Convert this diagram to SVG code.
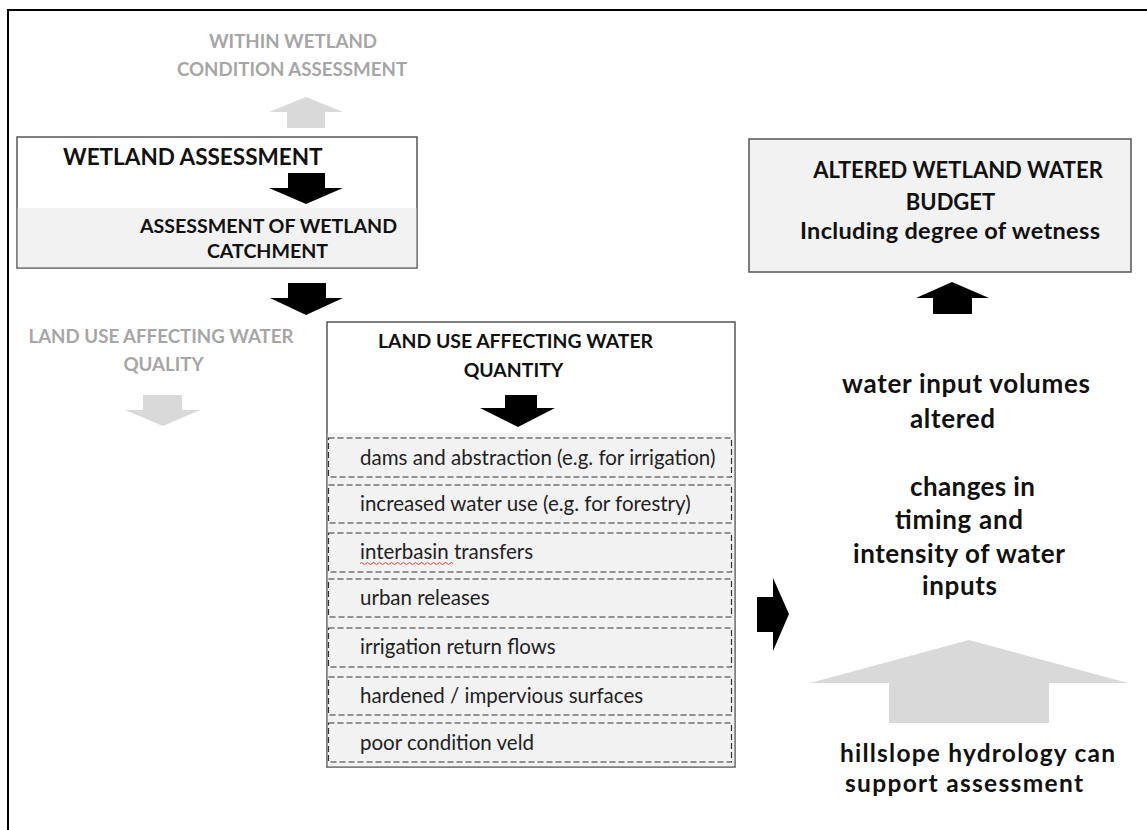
<svg xmlns="http://www.w3.org/2000/svg" width="1147" height="830" viewBox="0 0 1147 830">
<style>
text{font-family:Lato,"Liberation Sans",sans-serif;}
.b{font-weight:bold;fill:#111;}
.g{font-weight:bold;fill:#a6a6a6;font-size:18.7px;}
.r{fill:#222;font-size:20.5px;}
.t{font-size:26px;}
.h{font-size:24.5px;}
.box{fill:#fff;stroke:#555;stroke-width:1.5;}
.band{fill:#f2f2f2;}
.dash{fill:#f2f2f2;stroke:#333;stroke-width:1.2;stroke-dasharray:6 3;}
.ak{fill:#000;}
.ag{fill:#d9d9d9;}
</style>
<rect width="1147" height="830" fill="#fff"/>
<path d="M8 830 V10 H1147" fill="none" stroke="#000" stroke-width="2"/>

<g id="within-wetland">
<text class="g" font-size="19.3" x="293" y="48" text-anchor="middle">WITHIN WETLAND</text>
<text class="g" font-size="19.3" x="292" y="76" text-anchor="middle">CONDITION ASSESSMENT</text>
</g>

<g id="wetland-assessment">
<rect class="box" x="17" y="137" width="400" height="131"/>
<rect class="band" x="17.75" y="208" width="398.5" height="59.25"/>
<text class="b" font-size="22.5" x="63" y="165">WETLAND ASSESSMENT</text>
<text class="b" font-size="19.6" x="268.5" y="233" text-anchor="middle">ASSESSMENT OF WETLAND</text>
<text class="b" font-size="19.6" x="267.5" y="258" text-anchor="middle">CATCHMENT</text>
</g>

<g id="water-quality">
<text class="g" x="161" y="343" text-anchor="middle">LAND USE AFFECTING WATER</text>
<text class="g" x="163.5" y="371" text-anchor="middle">QUALITY</text>
</g>

<g id="water-quantity">
<rect class="box" x="327" y="322" width="408" height="445"/>
<rect class="band" x="327.75" y="433" width="406.5" height="333.25"/>
<text class="b" font-size="19.4" x="515.5" y="348" text-anchor="middle">LAND USE AFFECTING WATER</text>
<text class="b" font-size="19.4" x="513.5" y="377" text-anchor="middle">QUANTITY</text>
<g id="item1"><rect class="dash" x="328.5" y="438" width="403" height="39"/><text class="r" x="360" y="465">dams and abstraction (e.g. for irrigation)</text></g>
<g id="item2"><rect class="dash" x="328.5" y="485" width="403" height="38"/><text class="r" x="360" y="511">increased water use (e.g. for forestry)</text></g>
<g id="item3"><rect class="dash" x="328.5" y="533" width="403" height="39"/><text class="r" x="360" y="559">interbasin transfers</text>
<path d="M360 563.5 q1.5 -2 3 0 t3 0 t3 0 t3 0 t3 0 t3 0 t3 0 t3 0 t3 0 t3 0 t3 0 t3 0 t3 0 t3 0 t3 0 t3 0 t3 0 t3 0 t3 0 t3 0 t3 0 t3 0 t3 0 t3 0 t3 0 t3 0 t3 0 t3 0 t3 0 t3 0 t3 0" fill="none" stroke="#e03030" stroke-width="0.9"/></g>
<g id="item4"><rect class="dash" x="328.5" y="579" width="403" height="38"/><text class="r" x="360" y="605">urban releases</text></g>
<g id="item5"><rect class="dash" x="328.5" y="628" width="403" height="39"/><text class="r" x="360" y="654">irrigation return flows</text></g>
<g id="item6"><rect class="dash" x="328.5" y="677" width="403" height="38"/><text class="r" x="360" y="703">hardened / impervious surfaces</text></g>
<g id="item7"><rect class="dash" x="328.5" y="723" width="403" height="39"/><text class="r" x="360" y="750">poor condition veld</text></g>
</g>

<g id="altered-budget">
<rect x="749" y="139" width="382" height="133" fill="#f2f2f2" stroke="#555" stroke-width="1.5"/>
<text class="b" font-size="22" x="958" y="178" text-anchor="middle">ALTERED WETLAND WATER</text>
<text class="b" font-size="22" x="950.5" y="210" text-anchor="middle">BUDGET</text>
<text class="b" font-size="23.5" x="950" y="239" text-anchor="middle" textLength="300" lengthAdjust="spacing">Including degree of wetness</text>
</g>

<g id="volumes">
<text class="b t" x="966" y="393" text-anchor="middle" textLength="248" lengthAdjust="spacing">water input volumes</text>
<text class="b t" x="952.5" y="428" text-anchor="middle" textLength="85" lengthAdjust="spacing">altered</text>
</g>

<g id="timing">
<text class="b t" x="972.5" y="496" text-anchor="middle" textLength="125" lengthAdjust="spacing">changes in</text>
<text class="b t" x="959" y="529" text-anchor="middle" textLength="128" lengthAdjust="spacing">timing and</text>
<text class="b t" x="959" y="563" text-anchor="middle" textLength="212" lengthAdjust="spacing">intensity of water</text>
<text class="b t" x="959.5" y="595" text-anchor="middle" textLength="75" lengthAdjust="spacing">inputs</text>
</g>

<g id="hillslope">
<text class="b h" x="977.5" y="762" text-anchor="middle" textLength="275" lengthAdjust="spacing">hillslope hydrology can</text>
<text class="b h" x="964" y="792" text-anchor="middle" textLength="238" lengthAdjust="spacing">support assessment</text>
</g>

<g id="connectors">
<polygon class="ag" points="287,128 325,128 325,112 343,112 306,97 269,112 287,112"/>
<polygon class="ak" points="288,173 325,173 325,188 343,188 306,204 269,188 288,188"/>
<polygon class="ak" points="288,283 326,283 326,298 343,298 306,315 270,298 288,298"/>
<polygon class="ag" points="143,395 182,395 182,410 200,410 163,426 125,410 143,410"/>
<polygon class="ak" points="505,395 537,395 537,408 555,408 518,427 480,408 505,408"/>
<polygon class="ak" points="933,314 972,314 972,298 989,298 952,282 916,298 933,298"/>
<polygon class="ak" points="757,597 773,597 773,578 789,614 773,651 773,632 757,632"/>
<polygon class="ag" points="889,723 1049,723 1049,683 1128,683 969,640 810,683 889,683"/>
</g>
</svg>
